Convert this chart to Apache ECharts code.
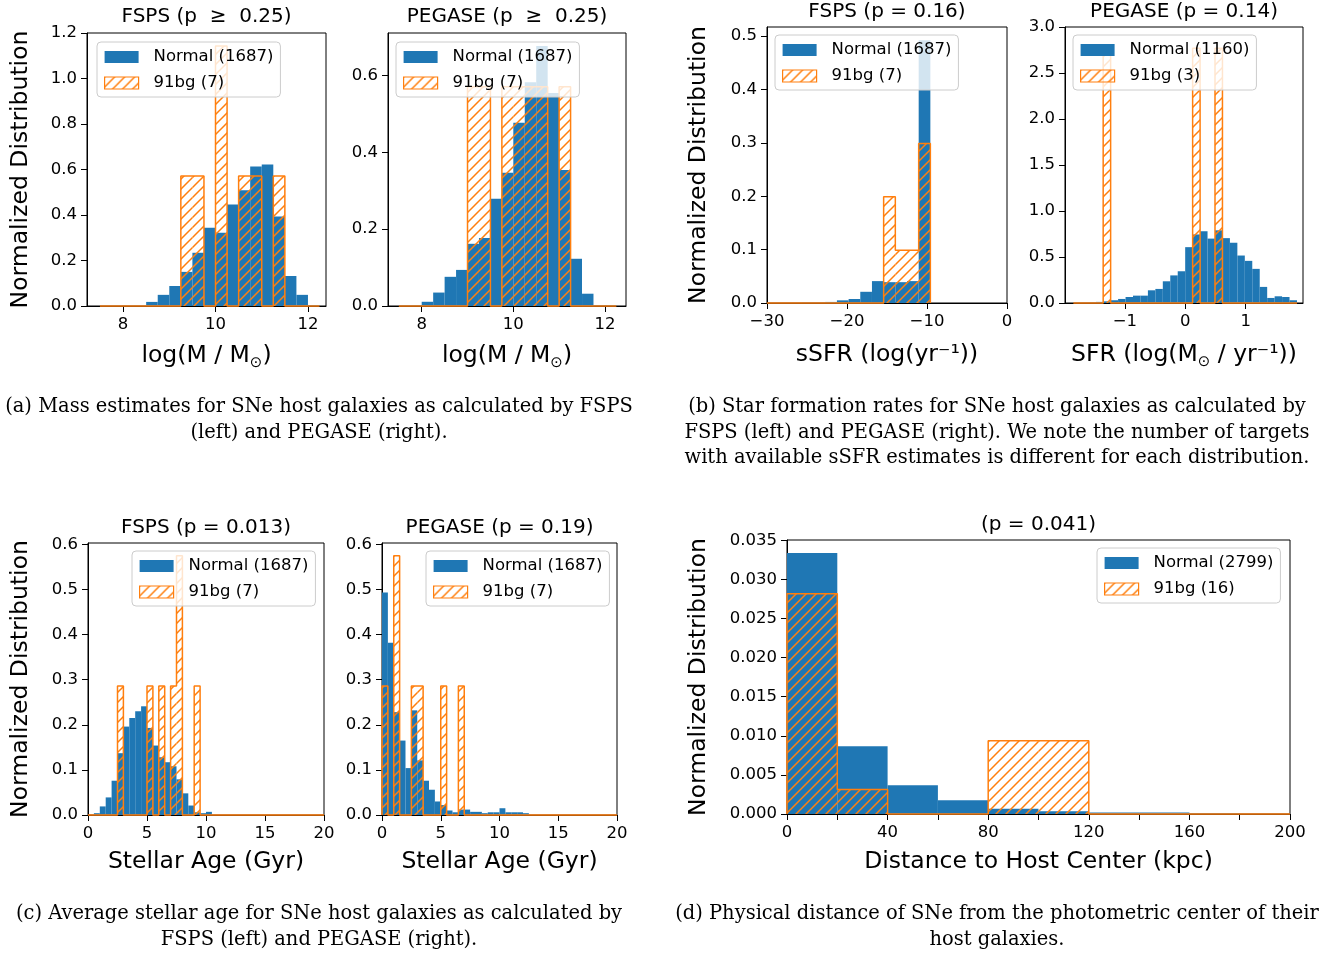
<!DOCTYPE html>
<html>
<head>
<meta charset="utf-8">
<script src="https://cdn.jsdelivr.net/npm/echarts@6/dist/echarts.min.js"></script>
<style>
html, body { margin: 0; padding: 0; background: #fff; }
#main { width: 1330px; height: 953px; }
</style>
</head>
<body>
<div id="main"></div>
<script>
// ---------- data (normalized histogram heights) ----------
// (a) host mass, log(M/Msun): bins 0.25 wide starting at 7.5
var massBinStart = 7.5, massBinWidth = 0.25;
var massFspsNormal   = [0.002, 0.002, 0.002, 0.002, 0.018, 0.049, 0.088, 0.150, 0.234, 0.344, 0.322, 0.446, 0.509, 0.613, 0.622, 0.393, 0.132, 0.049, 0.004];
var massFsps91bg     = [0, 0, 0, 0, 0, 0, 0, 0.571, 0.571, 0, 1.143, 0, 0.571, 0.571, 0, 0.571, 0, 0, 0];
var massPegaseNormal = [0.002, 0.002, 0.011, 0.035, 0.076, 0.094, 0.162, 0.177, 0.279, 0.347, 0.477, 0.583, 0.677, 0.555, 0.354, 0.123, 0.032, 0.002, 0.002];
var massPegase91bg   = [0, 0, 0, 0, 0, 0, 0.571, 0.571, 0, 0.571, 0.571, 0.571, 0.571, 0, 0.571, 0, 0, 0, 0];

// (b) sSFR (FSPS): bins 1.46 wide; SFR (PEGASE): bins 0.1235 wide
var ssfrBinStart = -30.02, ssfrBinWidth = 1.46;
var ssfrFspsNormal = [0.0005, 0.0005, 0.0005, 0.001, 0.001, 0.002, 0.005, 0.0075, 0.021, 0.041, 0.039, 0.039, 0.041, 0.492];
var ssfrFsps91bg   = [0, 0, 0, 0, 0, 0, 0, 0, 0, 0, 0.199, 0.099, 0.099, 0.299];
var sfrBinStart = -1.8545, sfrBinWidth = 0.1235;
var sfrPegaseNormal = [0.005, 0.005, 0.007, 0.012, 0.018, 0.030, 0.044, 0.065, 0.080, 0.080, 0.138, 0.153, 0.236, 0.300, 0.345,
                       0.607, 0.745, 0.780, 0.700, 0.790, 0.705, 0.655, 0.516, 0.458, 0.371, 0.175, 0.055, 0.073, 0.065, 0.030];
var sfrPegase91bg   = [0, 0, 0, 0, 2.77, 0, 0, 0, 0, 0, 0, 0, 0, 0, 0,
                       0, 2.77, 0, 0, 2.77, 0, 0, 0, 0, 0, 0, 0, 0, 0, 0];

// (c) stellar age (Gyr): bins 0.5 wide from 0 to 20
var ageBinStart = 0, ageBinWidth = 0.5;
var ageFspsNormal = [0, 0.004, 0.019, 0.039, 0.076, 0.137, 0.196, 0.215, 0.230, 0.241, 0.193, 0.154, 0.128, 0.117, 0.108, 0.079, 0.048, 0.021, 0.006, 0.004,
                     0.007, 0, 0, 0, 0, 0, 0, 0, 0, 0, 0, 0, 0, 0, 0, 0, 0, 0, 0, 0];
var ageFsps91bg   = [0, 0, 0, 0, 0, 0.286, 0, 0, 0, 0, 0.286, 0, 0.286, 0, 0.286, 0.575, 0, 0, 0.286, 0,
                     0, 0, 0, 0, 0, 0, 0, 0, 0, 0, 0, 0, 0, 0, 0, 0, 0, 0, 0, 0];
var agePegaseNormal = [0.493, 0.382, 0.228, 0.165, 0.104, 0.232, 0.121, 0.076, 0.056, 0.030, 0.022, 0.010, 0.006, 0.012, 0.012, 0.007, 0.007, 0.004, 0.006, 0.006,
                       0.015, 0.006, 0.006, 0.006, 0.004, 0, 0, 0, 0, 0, 0, 0, 0, 0, 0, 0, 0, 0, 0, 0];
var agePegase91bg   = [0.286, 0, 0.575, 0, 0, 0.286, 0.286, 0, 0, 0, 0.286, 0, 0, 0.286, 0, 0, 0, 0, 0, 0,
                       0, 0, 0, 0, 0, 0, 0, 0, 0, 0, 0, 0, 0, 0, 0, 0, 0, 0, 0, 0];

// (d) distance to host centre (kpc): bins 20 wide from 0 to 200
var distBinStart = 0, distBinWidth = 20;
var distNormal = [0.03338, 0.00868, 0.00368, 0.00175, 0.00068, 0.00034, 0.00020, 0.00020, 0.00010, 0.00003];
var dist91bg   = [0.02816, 0.00312, 0, 0, 0.00936, 0.00936, 0, 0, 0, 0];

// tick labels
var massXTicks = [8, 10, 12];
var massFspsYTicks = [0, 0.2, 0.4, 0.6, 0.8, 1.0, 1.2];
var massPegaseYTicks = [0, 0.2, 0.4, 0.6];
var ssfrXTicks = [-30, -20, -10, 0];
var ssfrYTicks = [0, 0.1, 0.2, 0.3, 0.4, 0.5];
var sfrXTicks = [-1, 0, 1];
var sfrYTicks = [0, 0.5, 1.0, 1.5, 2.0, 2.5, 3.0];
var ageXTicks = [0, 5, 10, 15, 20];
var ageYTicks = [0, 0.1, 0.2, 0.3, 0.4, 0.5, 0.6];
var distXTicks = [0, 20, 40, 60, 80, 100, 120, 140, 160, 180, 200];
var distXLabels = [0, 40, 80, 120, 160, 200];
var distYTicks = [0, 0.005, 0.010, 0.015, 0.020, 0.025, 0.030, 0.035];

var captionA = ['(a) Mass estimates for SNe host galaxies as calculated by FSPS', '(left) and PEGASE (right).'];
var captionB = ['(b) Star formation rates for SNe host galaxies as calculated by',
                'FSPS (left) and PEGASE (right). We note the number of targets',
                'with available sSFR estimates is different for each distribution.'];
var captionC = ['(c) Average stellar age for SNe host galaxies as calculated by', 'FSPS (left) and PEGASE (right).'];
var captionD = ['(d) Physical distance of SNe from the photometric center of their', 'host galaxies.'];

// ---------- styling ----------
var BLUE = '#1f77b4', ORANGE = '#ff7f0e';
var SANS = 'DejaVu Sans', SERIF = 'DejaVu Serif';

// '//' hatch used for the 91bg bars
var hatch = (function () {
  var c = document.createElement('canvas');
  c.width = 10; c.height = 10;
  var g = c.getContext('2d');
  g.strokeStyle = ORANGE;
  g.lineWidth = 1.5;
  g.beginPath();
  g.moveTo(0, 10); g.lineTo(10, 0);
  g.moveTo(-2, 2); g.lineTo(2, -2);
  g.moveTo(8, 12); g.lineTo(12, 8);
  g.stroke();
  return { image: c, repeat: 'repeat' };
})();

function toBins(start, width, vals) {
  return vals.map(function (v, i) { return [start + i * width, start + (i + 1) * width, v]; });
}
// matplotlib 'step' outline of a histogram
function outline(start, width, vals) {
  var pts = [[start, 0]];
  vals.forEach(function (v, i) {
    pts.push([start + i * width, v], [start + (i + 1) * width, v]);
  });
  pts.push([start + vals.length * width, 0]);
  return pts;
}
function rectItem(api, fill) {
  var a = api.coord([api.value(0), api.value(2)]);
  var b = api.coord([api.value(1), 0]);
  return { type: 'rect', shape: { x: a[0], y: a[1], width: b[0] - a[0], height: b[1] - a[1] }, style: { fill: fill } };
}
function fmt(v, dec) {
  var s = v.toFixed(dec);
  return v < 0 ? '\u2212' + s.slice(1) : s;
}

var panels = [
  { grid: { left: 87, top: 33, width: 239, height: 273 }, title: 'FSPS (p  \u2265  0.25)', titleTop: 7,
    x: [7.22, 12.39], xTicks: massXTicks, xDec: 0, y: [0, 1.2], yTicks: massFspsYTicks, yDec: 1,
    xName: 'log(M / M{sub|\u2299})', xGap: 35, yGap: 52,
    start: massBinStart, width: massBinWidth, normal: massFspsNormal, bg: massFsps91bg,
    normalName: 'Normal (1687)', bgName: '91bg (7)', legend: [97, 42] },
  { grid: { left: 388, top: 33, width: 238, height: 273 }, title: 'PEGASE (p  \u2265  0.25)', titleTop: 7,
    x: [7.264, 12.46], xTicks: massXTicks, xDec: 0, y: [0, 0.711], yTicks: massPegaseYTicks, yDec: 1,
    xName: 'log(M / M{sub|\u2299})', xGap: 35,
    start: massBinStart, width: massBinWidth, normal: massPegaseNormal, bg: massPegase91bg,
    normalName: 'Normal (1687)', bgName: '91bg (7)', legend: [396, 42] },
  { grid: { left: 767, top: 27, width: 240, height: 276 }, title: 'FSPS (p = 0.16)', titleTop: 2,
    x: [-30, 0], xTicks: ssfrXTicks, xDec: 0, y: [0, 0.517], yTicks: ssfrYTicks, yDec: 1,
    xName: 'sSFR (log(yr\u207B\u00B9))', xGap: 37, yGap: 54,
    start: ssfrBinStart, width: ssfrBinWidth, normal: ssfrFspsNormal, bg: ssfrFsps91bg,
    normalName: 'Normal (1687)', bgName: '91bg (7)', legend: [775, 35] },
  { grid: { left: 1065, top: 27, width: 238, height: 276 }, title: 'PEGASE (p = 0.14)', titleTop: 2,
    x: [-1.993, 1.95], xTicks: sfrXTicks, xDec: 0, y: [0, 3.0], yTicks: sfrYTicks, yDec: 1,
    xName: 'SFR (log(M{sub|\u2299} / yr\u207B\u00B9))', xGap: 37,
    start: sfrBinStart, width: sfrBinWidth, normal: sfrPegaseNormal, bg: sfrPegase91bg,
    normalName: 'Normal (1160)', bgName: '91bg (3)', legend: [1073, 35] },
  { grid: { left: 88, top: 543, width: 236, height: 272 }, title: 'FSPS (p = 0.013)', titleTop: 518,
    x: [0, 20], xTicks: ageXTicks, xDec: 0, y: [0, 0.603], yTicks: ageYTicks, yDec: 1,
    xName: 'Stellar Age (Gyr)', xGap: 32, yGap: 53,
    start: ageBinStart, width: ageBinWidth, normal: ageFspsNormal, bg: ageFsps91bg,
    normalName: 'Normal (1687)', bgName: '91bg (7)', legend: [132, 551] },
  { grid: { left: 382, top: 543, width: 235, height: 272 }, title: 'PEGASE (p = 0.19)', titleTop: 518,
    x: [0, 20], xTicks: ageXTicks, xDec: 0, y: [0, 0.603], yTicks: ageYTicks, yDec: 1,
    xName: 'Stellar Age (Gyr)', xGap: 32,
    start: ageBinStart, width: ageBinWidth, normal: agePegaseNormal, bg: agePegase91bg,
    normalName: 'Normal (1687)', bgName: '91bg (7)', legend: [426, 551] },
  { grid: { left: 787, top: 540, width: 503, height: 274 }, title: '(p = 0.041)', titleTop: 515,
    x: [0, 200], xTicks: distXTicks, xLabels: distXLabels, xDec: 0, y: [0, 0.03505], yTicks: distYTicks, yDec: 3,
    xName: 'Distance to Host Center (kpc)', xGap: 33, yGap: 74,
    start: distBinStart, width: distBinWidth, normal: distNormal, bg: dist91bg,
    normalName: 'Normal (2799)', bgName: '91bg (16)', legend: [1097, 548] }
];

var tickStyle = { show: true, inside: false, length: 6, lineStyle: { color: '#000', width: 1 } };
var labelFont = { fontFamily: SANS, fontSize: 16.5, color: '#000' };

var grids = [], xAxes = [], yAxes = [], series = [], legends = [], titles = [];
panels.forEach(function (p, i) {
  grids.push(Object.assign({ show: true, borderColor: '#000', borderWidth: 1, backgroundColor: 'transparent' }, p.grid));
  titles.push({
    text: p.title, left: p.grid.left + p.grid.width / 2, top: p.titleTop, textAlign: 'center', padding: 0,
    textStyle: { fontFamily: SANS, fontSize: 20, fontWeight: 'normal', color: '#000' }
  });
  xAxes.push({
    type: 'value', gridIndex: i, min: p.x[0], max: p.x[1],
    name: p.xName, nameLocation: 'middle', nameGap: p.xGap,
    nameTextStyle: { fontFamily: SANS, fontSize: 23.5, color: '#000', lineHeight: 30,
      rich: { sub: { fontFamily: SANS, fontSize: 15, color: '#000', lineHeight: 30, verticalAlign: 'bottom' } } },
    axisLine: { show: true, onZero: false, lineStyle: { color: '#000', width: 1 } },
    axisTick: Object.assign({ customValues: p.xTicks }, tickStyle),
    axisLabel: Object.assign({ customValues: p.xLabels || p.xTicks, margin: 10,
      formatter: function (v) { return fmt(v, p.xDec); } }, labelFont),
    splitLine: { show: false }
  });
  yAxes.push({
    type: 'value', gridIndex: i, min: p.y[0], max: p.y[1],
    name: p.yGap ? 'Normalized Distribution' : '', nameLocation: 'middle', nameGap: p.yGap || 0,
    nameTextStyle: { fontFamily: SANS, fontSize: 23.5, color: '#000', lineHeight: 28 },
    axisLine: { show: true, onZero: false, lineStyle: { color: '#000', width: 1 } },
    axisTick: Object.assign({ customValues: p.yTicks }, tickStyle),
    axisLabel: Object.assign({ customValues: p.yTicks, margin: 10,
      formatter: function (v) { return fmt(v, p.yDec); } }, labelFont),
    splitLine: { show: false }
  });
  series.push({
    type: 'custom', name: p.normalName, xAxisIndex: i, yAxisIndex: i, z: 1,
    itemStyle: { color: BLUE },
    encode: { x: [0, 1], y: 2 },
    data: toBins(p.start, p.width, p.normal),
    renderItem: function (params, api) { return rectItem(api, BLUE); }
  });
  series.push({
    type: 'custom', name: p.bgName, xAxisIndex: i, yAxisIndex: i, z: 2,
    itemStyle: { color: hatch },
    encode: { x: [0, 1], y: 2 },
    data: toBins(p.start, p.width, p.bg).filter(function (d) { return d[2] > 0; }),
    renderItem: function (params, api) { return rectItem(api, hatch); }
  });
  series.push({
    type: 'line', name: 'outline ' + i, xAxisIndex: i, yAxisIndex: i, z: 3, silent: true,
    symbol: 'none', clip: false,
    lineStyle: { color: ORANGE, width: 1.5 }, itemStyle: { color: ORANGE },
    data: outline(p.start, p.width, p.bg)
  });
  legends.push({
    left: p.legend[0], top: p.legend[1], orient: 'vertical', selectedMode: false, z: 10,
    itemWidth: 34, itemHeight: 12, itemGap: 8,
    padding: [6, 7, 5, 7],
    backgroundColor: 'rgba(255,255,255,0.8)', borderColor: '#cccccc', borderWidth: 1, borderRadius: 4,
    textStyle: { fontFamily: SANS, fontSize: 16.5, color: '#000', lineHeight: 18, padding: [0, 0, 0, 10] },
    data: [
      { name: p.normalName, icon: 'rect', itemStyle: { color: BLUE, borderWidth: 0 } },
      { name: p.bgName, icon: 'rect', itemStyle: { color: hatch, borderColor: ORANGE, borderWidth: 1.2 } }
    ]
  });
});

// captions under each pair of panels
function fitSize(text, width, family) {
  var ctx = document.createElement('canvas').getContext('2d');
  ctx.font = '100px "' + family + '"';
  return 100 * width / ctx.measureText(text).width;
}
var capSize = fitSize(captionA[0], 628, SERIF);
var graphics = [];
function addCaption(lines, cx, y0) {
  lines.forEach(function (t, k) {
    graphics.push({
      type: 'text', x: cx, y: y0 + k * 25.5, silent: true,
      style: { text: t, fontFamily: SERIF, fontSize: capSize, fill: '#000', align: 'center', verticalAlign: 'middle' }
    });
  });
}
addCaption(captionA, 319, 407);
addCaption(captionB, 997, 407);
addCaption(captionC, 319, 914);
addCaption(captionD, 997, 914);

var chart = echarts.init(document.getElementById('main'), null, { renderer: 'canvas' });
chart.setOption({
  animation: false,
  backgroundColor: '#fff',
  textStyle: { fontFamily: SANS },
  title: titles,
  legend: legends,
  grid: grids,
  xAxis: xAxes,
  yAxis: yAxes,
  series: series,
  graphic: graphics
});
</script>
</body>
</html>
